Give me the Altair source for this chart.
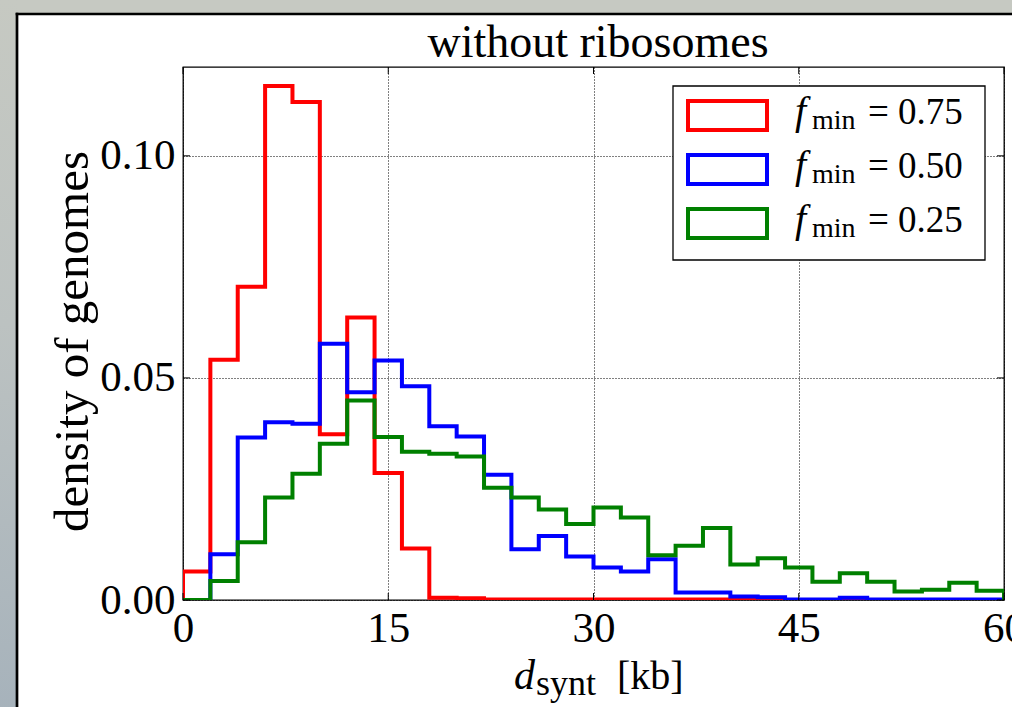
import altair as alt
import pandas as pd

# Histogram of synteny distance, 2 kb bins from 0 to 60 kb
bin_edges = list(range(0, 62, 2))
f_min_labels = ["0.75", "0.50", "0.25"]
line_colors = ["#ff0000", "#0000ff", "#008000"]

density_075 = [0.0064, 0.0541, 0.0705, 0.1157, 0.1121, 0.0373, 0.0636, 0.0286,
               0.0116, 0.0005, 0.0004, 0.0001, 0.0001, 0.0001, 0.0001, 0.0001,
               0.0001, 0.0001, 0.0001, 0.0001, 0.0, 0.0, 0.0, 0.0, 0.0, 0.0,
               0.0, 0.0, 0.0, 0.0]
density_050 = [0.0, 0.0103, 0.0366, 0.0400, 0.0397, 0.0577, 0.0468, 0.0539,
               0.0481, 0.0391, 0.0368, 0.0282, 0.0114, 0.0144, 0.0098, 0.0073,
               0.0064, 0.0092, 0.0017, 0.0017, 0.0008, 0.0006, 0.0001, 0.0001,
               0.0005, 0.0001, 0.0001, 0.0001, 0.0001, 0.0001]
density_025 = [0.0, 0.0043, 0.0130, 0.0231, 0.0284, 0.0352, 0.0449, 0.0367,
               0.0334, 0.0329, 0.0323, 0.0253, 0.0231, 0.0204, 0.0171, 0.0208,
               0.0186, 0.0101, 0.0122, 0.0162, 0.0080, 0.0094, 0.0073, 0.0041,
               0.0060, 0.0041, 0.0019, 0.0023, 0.0039, 0.0021]

x_ticks = [0, 15, 30, 45, 60]
y_ticks = [0.0, 0.05, 0.10]

W, H = 821, 533
FONT = "Liberation Serif"
PAD_L, PAD_T = 183, 67


def step_frame(values):
    """Outline of a step histogram: up from the baseline, across each bin, back down."""
    kb = [bin_edges[0]] + bin_edges[:-1] + [bin_edges[-1], bin_edges[-1]]
    dens = [0.0] + list(values) + [values[-1], 0.0]
    return pd.DataFrame({"kb": kb, "density": dens, "ord": list(range(len(kb)))})


x_scale = alt.Scale(domain=[0, 60], nice=False, zero=False)
y_scale = alt.Scale(domain=[0, 0.12], nice=False, zero=False)

grid_style = dict(grid=True, gridColor="black", gridDash=[1, 2], gridWidth=1,
                  gridOpacity=1, domain=False, ticks=False, tickSize=0,
                  labelFont=FONT, labelFontSize=43, labelColor="black",
                  labelOverlap=False, labelFlush=False, title=None)
x_axis = alt.Axis(values=x_ticks, format="d", labelPadding=7, **grid_style)
y_axis = alt.Axis(values=y_ticks, format=".2f", labelPadding=8, **grid_style)


def x_enc(field="kb"):
    return alt.X(f"{field}:Q", scale=x_scale, axis=x_axis)


def y_enc(field="density"):
    return alt.Y(f"{field}:Q", scale=y_scale, axis=y_axis)


single = pd.DataFrame({"k": [0]})

# ---- histogram outlines (red under blue under green)
hist_layers = []
for values, color in zip([density_075, density_050, density_025], line_colors):
    hist_layers.append(
        alt.Chart(step_frame(values)).mark_line(
            interpolate="step-after", color=color, strokeWidth=4,
            strokeJoin="miter", strokeCap="butt", clip=True
        ).encode(x=x_enc(), y=y_enc(), order=alt.Order("ord:Q"))
    )

# ---- inward tick marks on all four sides
xt = pd.DataFrame({"kb": x_ticks})
yt = pd.DataFrame({"density": y_ticks})
tick_layers = [
    alt.Chart(xt).mark_rule(color="black", strokeWidth=1).encode(
        x=x_enc(), y=alt.value(H), y2=alt.value(H - 7)),
    alt.Chart(xt).mark_rule(color="black", strokeWidth=1).encode(
        x=x_enc(), y=alt.value(0), y2=alt.value(7)),
    alt.Chart(yt).mark_rule(color="black", strokeWidth=1).encode(
        y=y_enc(), x=alt.value(0), x2=alt.value(7)),
    alt.Chart(yt).mark_rule(color="black", strokeWidth=1).encode(
        y=y_enc(), x=alt.value(W), x2=alt.value(W - 7)),
]

# ---- legend box with outlined patches and f_min labels
legend_df = pd.DataFrame({
    "label": ["= " + s for s in f_min_labels],
    "color": line_colors,
    "row": [0, 1, 2],
})
legend_df["cy"] = 48.5 + 54 * legend_df["row"]
legend_df["top"] = legend_df["cy"] - 14.5
legend_df["bot"] = legend_df["cy"] + 14.5
legend_df["base"] = legend_df["cy"] + 8
legend_df["sub"] = legend_df["cy"] + 13

legend_frame = alt.Chart(single).mark_rect(
    fill="white", stroke="black", strokeWidth=1.3
).encode(x=alt.value(490), x2=alt.value(802), y=alt.value(19), y2=alt.value(193))

legend_patches = alt.Chart(legend_df).mark_rect(
    fillOpacity=0, strokeWidth=4, strokeJoin="miter"
).encode(
    x=alt.value(505), x2=alt.value(584),
    y=alt.Y("top:Q", scale=None), y2=alt.Y2("bot:Q"),
    stroke=alt.Stroke("color:N", scale=None),
)
legend_f = alt.Chart(legend_df).mark_text(
    font=FONT, fontSize=40, fontStyle="italic", align="left", baseline="alphabetic", color="black"
).encode(x=alt.value(612), y=alt.Y("base:Q", scale=None), text=alt.value("f"))
legend_min = alt.Chart(legend_df).mark_text(
    font=FONT, fontSize=28, align="left", baseline="alphabetic", color="black"
).encode(x=alt.value(629), y=alt.Y("sub:Q", scale=None), text=alt.value("min"))
legend_val = alt.Chart(legend_df).mark_text(
    font=FONT, fontSize=37, align="left", baseline="alphabetic", color="black"
).encode(x=alt.value(685), y=alt.Y("base:Q", scale=None), text="label:N")

# ---- titles
title = alt.Chart(single).mark_text(
    font=FONT, fontSize=46, align="center", baseline="alphabetic", color="black"
).encode(x=alt.value(415), y=alt.value(-10), text=alt.value("without ribosomes"))

ylabel = alt.Chart(single).mark_text(
    font=FONT, fontSize=49, align="center", baseline="alphabetic", angle=270, color="black"
).encode(x=alt.value(-95), y=alt.value(H / 2 + 8), text=alt.value("density of genomes"))

xlabel_d = alt.Chart(single).mark_text(
    font=FONT, fontSize=42, fontStyle="italic", align="left", baseline="alphabetic", color="black"
).encode(x=alt.value(331), y=alt.value(622), text=alt.value("d"))
xlabel_sub = alt.Chart(single).mark_text(
    font=FONT, fontSize=36, align="left", baseline="alphabetic", color="black"
).encode(x=alt.value(353), y=alt.value(628), text=alt.value("synt"))
xlabel_unit = alt.Chart(single).mark_text(
    font=FONT, fontSize=40, align="left", baseline="alphabetic", color="black"
).encode(x=alt.value(434), y=alt.value(622), text=alt.value("[kb]"))

# ---- window frame around the figure
gray_top = alt.Chart(single).mark_rect(color="#c6c9c2").encode(
    x=alt.value(-PAD_L), x2=alt.value(W + 20), y=alt.value(-PAD_T), y2=alt.value(-53))
gray_left = alt.Chart(single).mark_rect(
    color=alt.Gradient(
        gradient="linear", x1=0, x2=0, y1=0, y2=1,
        stops=[alt.GradientStop(color="#c6c9c2", offset=0),
               alt.GradientStop(color="#bcc2c1", offset=0.45),
               alt.GradientStop(color="#a6b2bb", offset=1)],
    )
).encode(x=alt.value(-PAD_L), x2=alt.value(-166), y=alt.value(-PAD_T), y2=alt.value(H + 120))
frame_top = alt.Chart(single).mark_rule(color="black", strokeWidth=2.7).encode(
    x=alt.value(-167.3), x2=alt.value(W + 20), y=alt.value(-53))
frame_left = alt.Chart(single).mark_rule(color="black", strokeWidth=2.7).encode(
    x=alt.value(-166), y=alt.value(-54.3), y2=alt.value(H + 120))

chart = alt.layer(
    *hist_layers, *tick_layers,
    legend_frame, legend_patches, legend_f, legend_min, legend_val,
    title, ylabel, xlabel_d, xlabel_sub, xlabel_unit,
    gray_top, gray_left, frame_top, frame_left,
).properties(
    width=W, height=H,
    padding={"left": PAD_L, "top": PAD_T, "right": 8, "bottom": 107},
    autosize=alt.AutoSizeParams(type="none"),
    background="white",
).configure_view(stroke="black", strokeWidth=1.3)

chart.save("out.html", embed_options={"renderer": "svg", "actions": False})
